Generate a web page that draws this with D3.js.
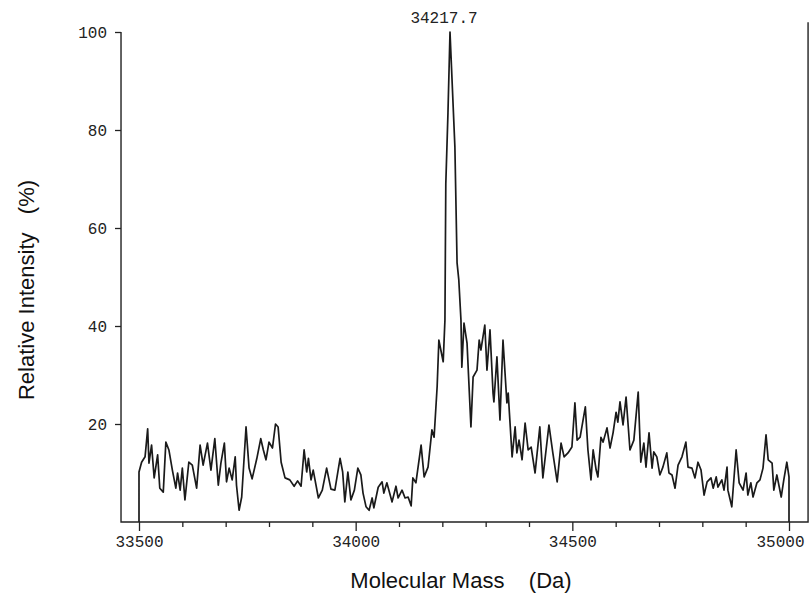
<!DOCTYPE html>
<html>
<head>
<meta charset="utf-8">
<script src="https://cdn.jsdelivr.net/npm/d3@7"></script>
<style>
  body { margin: 0; background: #fff; }
  svg { display: block; }
  .tick text { font-family: "Liberation Mono", "DejaVu Sans Mono", monospace; font-size: 16px; fill: #222; }
  .tick line { stroke: #222; stroke-width: 1.3; }
  .title { font-family: "Liberation Sans", Arial, sans-serif; font-size: 22px; fill: #111; }
</style>
</head>
<body>
<svg id="chart"></svg>
<script>
// mass spectrum trace (Da, relative intensity %)
var mass = [
  33500, 33500, 33506, 33514, 33520, 33523, 33529, 33535, 33543, 33548, 33556, 33562, 33569, 33577, 33585, 33589,
  33595, 33600, 33606, 33615, 33623, 33633, 33641, 33648, 33658, 33666, 33675, 33683, 33689, 33697, 33702, 33708,
  33715, 33722, 33725, 33731, 33737, 33747, 33754, 33761, 33772, 33781, 33787, 33793, 33800, 33808, 33815, 33821,
  33828, 33837, 33848, 33858, 33866, 33874, 33881, 33887, 33891, 33897, 33902, 33914, 33923, 33933, 33943, 33952,
  33964, 33970, 33975, 33982, 33989, 33997, 34005, 34012, 34017, 34024, 34031, 34038, 34042, 34052, 34061, 34065,
  34072, 34084, 34093, 34098, 34107, 34114, 34121, 34128, 34132, 34139, 34151, 34158, 34167, 34176, 34181, 34188,
  34192, 34202, 34206, 34208, 34213, 34217.7, 34229, 34234, 34238, 34243, 34245, 34250, 34257, 34266, 34271, 34280,
  34285, 34289, 34298, 34303, 34310, 34317, 34319, 34326, 34333, 34340, 34349, 34352, 34361, 34368, 34372, 34377,
  34384, 34391, 34398, 34405, 34414, 34425, 34432, 34446, 34455, 34465, 34474, 34481, 34490, 34499, 34506, 34511,
  34518, 34530, 34536, 34543, 34548, 34555, 34559, 34566, 34571, 34580, 34587, 34594, 34601, 34605, 34610, 34617,
  34624, 34633, 34642, 34652, 34658, 34665, 34670, 34677, 34684, 34688, 34695, 34702, 34709, 34718, 34723, 34730,
  34737, 34744, 34753, 34762, 34767, 34776, 34783, 34790, 34797, 34804, 34811, 34820, 34825, 34832, 34836, 34845,
  34850, 34857, 34859, 34868, 34878, 34885, 34894, 34901, 34905, 34912, 34917, 34926, 34933, 34940, 34947, 34952,
  34961, 34965, 34972, 34982, 34988, 34995, 35000, 35000
];
var intensity = [
  0, 10.2, 12.2, 13.3, 19, 12, 15.7, 9, 13.7, 6.9, 6.1, 16.3, 14.7, 10.6, 6.9, 10,
  6.5, 11, 4.5, 12.2, 11.6, 6.9, 15.7, 11.6, 16.1, 10.6, 17, 7.5, 12, 16.1, 8.2, 11,
  8.6, 13.3, 7.5, 2.4, 5.1, 19.4, 11, 8.8, 13, 17, 14.7, 12.7, 16.3, 15.1, 20, 19.4,
  12.2, 9, 8.6, 7.3, 8.4, 7.3, 14.7, 10.2, 13, 8.6, 10.6, 4.9, 6.5, 11, 6.7, 6.5,
  13, 10.2, 4.1, 10.2, 4.5, 6.5, 11, 9.6, 5.9, 3.1, 2.4, 4.9, 2.9, 7.1, 8.2, 5.9,
  8, 4.1, 7.3, 4.9, 6.5, 4.9, 5.1, 3.3, 9, 8, 15.7, 9.2, 11.2, 18.8, 17.3, 27.6,
  37.1, 32.7, 41.2, 69, 83.5, 100, 76.5, 52.9, 49.4, 41.2, 31.6, 40.6, 36.5, 19.4, 29.6, 31,
  37.1, 35.1, 40.2, 31, 39.2, 26.3, 24.5, 33.7, 20.8, 37.1, 24.3, 26.3, 13.3, 19.4, 14.1, 16.7,
  12.7, 20.2, 14.7, 15.3, 10, 19.4, 9, 19.8, 14.1, 8.2, 16.1, 13.3, 14.1, 15.3, 24.3, 16.7,
  17.3, 23.5, 14.7, 8.6, 14.7, 10.6, 9.2, 17.3, 16.3, 19.2, 15.1, 18.2, 22.4, 20.4, 24.5, 19.8,
  25.5, 14.7, 16.7, 26.5, 12.2, 16.1, 11.2, 18.2, 11, 14.3, 13.3, 9.6, 11.2, 14.1, 10, 9.6,
  6.9, 11.6, 13.3, 16.3, 11.2, 11, 9, 12.2, 10.6, 5.5, 8.2, 9, 6.9, 9.2, 7.1, 8.6,
  6.5, 11.2, 6.5, 3.1, 14.7, 8, 6.5, 10, 5.5, 8, 5.1, 8, 8.6, 11, 17.8, 12.7,
  12, 6.5, 9.6, 5.1, 8.6, 12.2, 9.2, 0
];
var xTicks = d3.range(33500, 35001, 100);
var xLabels = [33500, 34000, 34500, 35000];
var yTicks = [20, 40, 60, 80, 100];
var peakLabel = "34217.7";

var W = 812, H = 598;
var svg = d3.select("#chart").attr("width", W).attr("height", H);

var x = d3.scaleLinear().domain([33500, 35000]).range([139, 789]);
var y = d3.scaleLinear().domain([0, 100]).range([522, 32]);

var data = mass.map(function(m, i) { return {m: m, v: intensity[i]}; });

// frame: left axis, bottom axis, right edge
var frame = svg.append("g").attr("stroke", "#222").attr("stroke-width", 1.4).attr("fill", "none");
frame.append("path").attr("d", "M" + x(33458.5) + "," + y(100) + "V" + y(0) + "H" + x(35044) + "V" + y(102));

// x axis
var xAxis = svg.append("g")
  .attr("transform", "translate(0," + y(0) + ")")
  .call(d3.axisBottom(x).tickValues(xTicks).tickSize(5).tickPadding(8)
    .tickFormat(function(d) { return xLabels.indexOf(d) >= 0 ? d : ""; }));
xAxis.select(".domain").remove();
xAxis.selectAll(".tick line").attr("y2", function(d) { return xLabels.indexOf(d) >= 0 ? 9 : 5; });
xAxis.selectAll(".tick text")
  .attr("dy", "0.72em")
  .attr("dx", function(d) { return d === 35000 ? -9 : 0; });

// y axis
var yAxis = svg.append("g")
  .attr("transform", "translate(" + x(33458.5) + ",0)")
  .call(d3.axisLeft(y).tickValues(yTicks).tickSize(6).tickPadding(8));
yAxis.select(".domain").remove();

// trace
var line = d3.line()
  .x(function(d) { return x(d.m); })
  .y(function(d) { return y(d.v); });

svg.append("path")
  .datum(data)
  .attr("fill", "none")
  .attr("stroke", "#1a1a1a")
  .attr("stroke-width", 1.7)
  .attr("stroke-linejoin", "round")
  .attr("d", line);

// peak label
svg.append("text")
  .attr("x", x(34217.7) - 6)
  .attr("y", y(100) - 9)
  .attr("text-anchor", "middle")
  .style("font-family", "'Liberation Mono', 'DejaVu Sans Mono', monospace")
  .style("font-size", "16px")
  .style("fill", "#222")
  .text(peakLabel);

// axis titles
svg.append("text")
  .attr("class", "title")
  .attr("transform", "translate(34,290) rotate(-90)")
  .attr("text-anchor", "middle")
  .style("white-space", "pre")
  .text("Relative Intensity   (%)");

svg.append("text")
  .attr("class", "title")
  .attr("x", 461)
  .attr("y", 588)
  .attr("text-anchor", "middle")
  .style("white-space", "pre")
  .text("Molecular Mass    (Da)");
</script>
</body>
</html>
